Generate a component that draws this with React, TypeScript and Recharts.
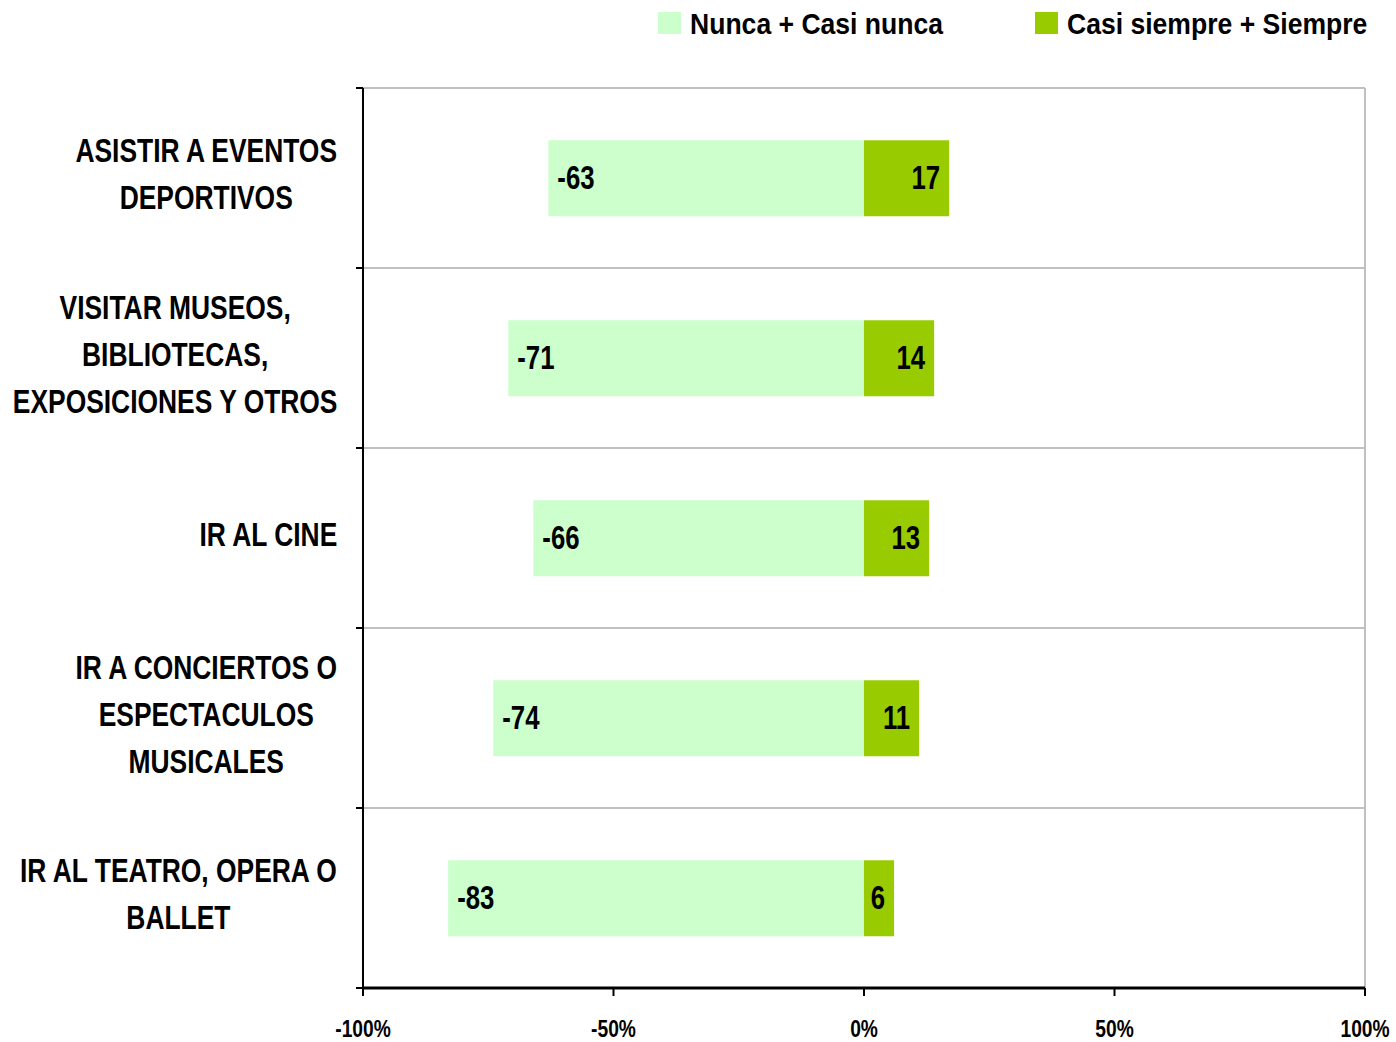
import { BarChart, Bar, XAxis, YAxis, CartesianGrid, LabelList } from 'recharts'

const categories = [
    'ASISTIR A EVENTOS DEPORTIVOS',
    'VISITAR MUSEOS, BIBLIOTECAS, EXPOSICIONES Y OTROS',
    'IR AL CINE',
    'IR A CONCIERTOS O ESPECTACULOS MUSICALES',
    'IR AL TEATRO, OPERA O BALLET',
]
// how each category name is broken over lines on the axis
const categoryLines = [
    ['ASISTIR A EVENTOS', 'DEPORTIVOS'],
    ['VISITAR MUSEOS,', 'BIBLIOTECAS,', 'EXPOSICIONES Y OTROS'],
    ['IR AL CINE'],
    ['IR A CONCIERTOS O', 'ESPECTACULOS', 'MUSICALES'],
    ['IR AL TEATRO, OPERA O', 'BALLET'],
]
const nuncaValues = [-63, -71, -66, -74, -83]
const siempreValues = [17, 14, 13, 11, 6]
const xTicks = [-100, -50, 0, 50, 100]

const NUNCA_NAME = 'Nunca + Casi nunca'
const SIEMPRE_NAME = 'Casi siempre + Siempre'
const NUNCA_COLOR = '#ccffcc'
const SIEMPRE_COLOR = '#99cc00'

// no narrow face is installed, so text is squeezed horizontally instead
const FONT = "'Liberation Sans', Arial, sans-serif"
const CAT_SIZE = 33
const CAT_SCALE = 0.8
const VALUE_SIZE = 33
const VALUE_SCALE = 0.78
const TICK_SIZE = 24
const TICK_SCALE = 0.8
const LEGEND_SIZE = 30
const LEGEND_SCALE = 0.885

const W = 1396
const H = 1042
const PLOT_TOP = 88
const PLOT_BOTTOM = 988
const Y_AXIS_W = 363
const BAND = (PLOT_BOTTOM - PLOT_TOP) / categories.length

const data = categories.map((name, i) => ({
    name,
    nunca: nuncaValues[i],
    siempre: siempreValues[i],
}))

let ctx: CanvasRenderingContext2D | null = null
function textWidth(s: string, size: number) {
    if (!ctx) ctx = document.createElement('canvas').getContext('2d')
    if (!ctx) return s.length * size * 0.6
    ctx.font = `bold ${size}px ${FONT}`
    return ctx.measureText(s).width
}

function CategoryTick(props: any) {
    const { x, y, payload, index } = props
    const i = categories.indexOf(payload.value)
    const lines = categoryLines[i] ?? [payload.value]
    const blockW = Math.max(...lines.map((l) => textWidth(l, CAT_SIZE))) * CAT_SCALE
    const cx = x - blockW / 2
    const lineH = 47
    const axisX = Y_AXIS_W
    return (
        <g>
            <line x1={axisX - 7} x2={axisX} y1={y - BAND / 2} y2={y - BAND / 2} stroke="#000" strokeWidth={2} />
            {index === categories.length - 1 && (
                <line x1={axisX - 7} x2={axisX} y1={y + BAND / 2} y2={y + BAND / 2} stroke="#000" strokeWidth={2} />
            )}
            <g transform={`translate(${cx},0) scale(${CAT_SCALE},1)`}>
                <text textAnchor="middle" fontFamily={FONT} fontWeight="bold" fontSize={CAT_SIZE} fill="#000">
                    {lines.map((l, k) => (
                        <tspan key={k} x={0} y={y - 4 + (k - (lines.length - 1) / 2) * lineH} dy="0.36em">
                            {l}
                        </tspan>
                    ))}
                </text>
            </g>
        </g>
    )
}

function PercentTick(props: any) {
    const { x, y, payload } = props
    return (
        <g transform={`translate(${x},${y}) scale(${TICK_SCALE},1)`}>
            <text x={0} y={0} dy="0.72em" textAnchor="middle" fontFamily={FONT} fontWeight="bold" fontSize={TICK_SIZE} fill="#000">
                {`${payload.value}%`}
            </text>
        </g>
    )
}

function ValueLabel(props: any) {
    const { x, y, width, height, value } = props
    const left = Math.min(x, x + width)
    const right = Math.max(x, x + width)
    const neg = value < 0
    return (
        <g transform={`translate(${neg ? left + 9 : right - 9},${y + height / 2 - 1}) scale(${VALUE_SCALE},1)`}>
            <text
                x={0}
                y={0}
                dy="0.36em"
                textAnchor={neg ? 'start' : 'end'}
                fontFamily={FONT}
                fontWeight="bold"
                fontSize={VALUE_SIZE}
                fill="#000"
            >
                {value}
            </text>
        </g>
    )
}

function LegendBox() {
    const items = [
        { name: NUNCA_NAME, color: NUNCA_COLOR, left: 658 },
        { name: SIEMPRE_NAME, color: SIEMPRE_COLOR, left: 1035 },
    ]
    return (
        <>
            {items.map((it) => (
                <div
                    key={it.name}
                    style={{
                        position: 'absolute',
                        left: it.left,
                        top: 12,
                        height: 22,
                        display: 'flex',
                        alignItems: 'center',
                        whiteSpace: 'nowrap',
                    }}
                >
                    <span style={{ width: 23, height: 22, background: it.color, marginRight: 9, flex: 'none' }} />
                    <span
                        style={{
                            fontFamily: FONT,
                            fontWeight: 'bold',
                            fontSize: LEGEND_SIZE,
                            lineHeight: '22px',
                            transform: `scaleX(${LEGEND_SCALE})`,
                            transformOrigin: 'left center',
                            display: 'inline-block',
                            paddingTop: 1,
                        }}
                    >
                        {it.name}
                    </span>
                </div>
            ))}
        </>
    )
}

export default function App() {
    return (
        <div style={{ position: 'absolute', left: 0, top: 0, width: W, height: H, background: '#fff' }}>
            <BarChart
                width={W}
                height={H}
                data={data}
                layout="vertical"
                stackOffset="sign"
                barCategoryGap="29%"
                margin={{ top: PLOT_TOP, right: 31, bottom: 0, left: 0 }}
            >
                <CartesianGrid
                    stroke="#c0c0c0"
                    strokeWidth={2}
                    horizontalCoordinatesGenerator={({ offset }: any) =>
                        categories.map((_, i) => offset.top + (i * offset.height) / categories.length)
                    }
                    verticalCoordinatesGenerator={({ offset }: any) => [offset.left + offset.width]}
                />
                <XAxis
                    type="number"
                    domain={[-100, 100]}
                    ticks={xTicks}
                    height={H - PLOT_BOTTOM}
                    axisLine={{ stroke: '#000', strokeWidth: 3 }}
                    tickLine={{ stroke: '#000', strokeWidth: 2 }}
                    tickSize={8}
                    tickMargin={24}
                    tick={<PercentTick />}
                />
                <YAxis
                    type="category"
                    dataKey="name"
                    width={Y_AXIS_W}
                    axisLine={{ stroke: '#000', strokeWidth: 2 }}
                    tickLine={false}
                    tickSize={7}
                    tickMargin={18}
                    interval={0}
                    tick={<CategoryTick />}
                />
                <Bar dataKey="nunca" name={NUNCA_NAME} stackId="a" fill={NUNCA_COLOR} isAnimationActive={false}>
                    <LabelList dataKey="nunca" content={<ValueLabel />} />
                </Bar>
                <Bar dataKey="siempre" name={SIEMPRE_NAME} stackId="a" fill={SIEMPRE_COLOR} isAnimationActive={false}>
                    <LabelList dataKey="siempre" content={<ValueLabel />} />
                </Bar>
            </BarChart>
            <LegendBox />
        </div>
    )
}
